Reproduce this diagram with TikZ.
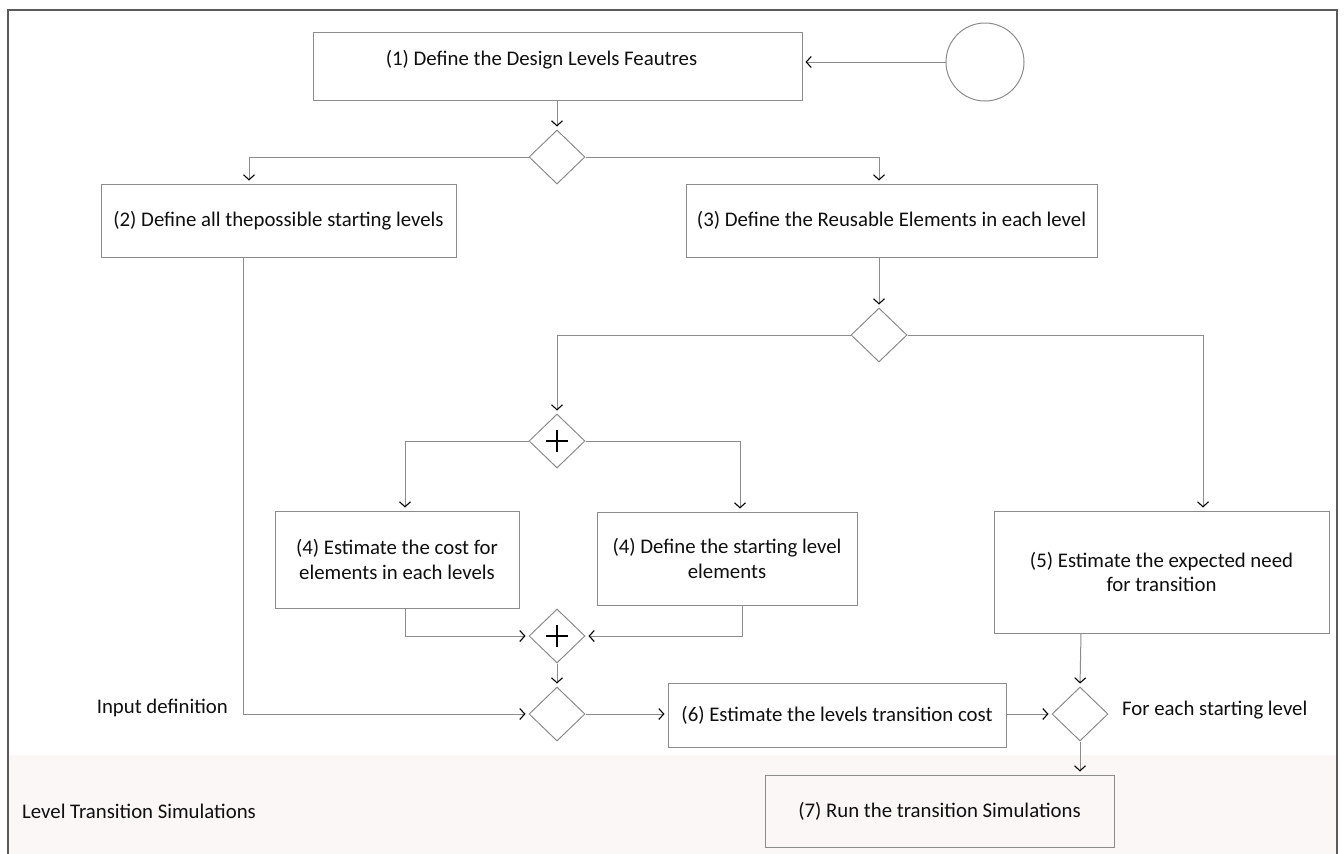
\documentclass[tikz,border=0pt]{standalone}
\usepackage{fontspec}
\setmainfont{Carlito}
\usetikzlibrary{arrows.meta,shapes.geometric,calc}
\definecolor{linegray}{RGB}{140,140,140}
\definecolor{framegray}{RGB}{90,90,90}
\definecolor{tint}{RGB}{251,247,246}
\definecolor{txt}{RGB}{15,15,15}
\tikzset{
  box/.style={draw=linegray,line width=1pt,rectangle,inner sep=0pt,align=center,text=txt,font=\fontsize{20.8}{24.5}\selectfont},
  gate/.style={draw=linegray,line width=1pt,diamond,inner sep=0pt,minimum width=56pt,minimum height=54pt},
  conn/.style={draw=linegray,line width=1pt,-{Straight Barb[length=5pt,width=11pt,line width=1.1pt,black]},shorten >=3pt},
  lbl/.style={text=txt,font=\fontsize{20.8}{24.5}\selectfont,inner sep=0pt},
  plus/.style={draw=black,line width=1.3pt}
}
\begin{document}
\begin{tikzpicture}[x=1pt,y=-1pt]
\useasboundingbox (0,0) rectangle (1344,854);
\fill[white] (0,0) rectangle (1344,854);
\fill[tint] (8,755) rectangle (1337,854);
\draw[framegray,line width=1.4pt] (8,854) -- (8,10) -- (1337,10) -- (1337,854);

% nodes
\node[box,minimum width=489pt,minimum height=68pt] (b1) at (557.5,66) {};
\node[lbl] at ([xshift=-16pt,yshift=6pt]b1.center) {(1) Define the Design Levels Feautres};
\node[draw=linegray,line width=1pt,circle,minimum size=78pt,inner sep=0pt] (start) at (985,62) {};
\node[gate] (d1) at (557,157) {};
\node[box,minimum width=355pt,minimum height=73pt] (b2) at (278.5,220.5) {(2) Define all thepossible starting levels};
\node[box,minimum width=411pt,minimum height=73pt] (b3) at (891.5,220.5) {(3) Define the Reusable Elements in each level};
\node[gate] (d2) at (879,335) {};
\node[gate] (pa) at (557,441) {};
\node[box,minimum width=244pt,minimum height=97pt] (b4a) at (397,559.5) {(4) Estimate the cost for\\elements in each levels};
\node[box,minimum width=260pt,minimum height=93pt] (b4b) at (727,558.5) {(4) Define the starting level\\elements};
\node[box,minimum width=335pt,minimum height=122pt] (b5) at (1161.5,572) {(5) Estimate the expected need\\for transition};
\node[gate] (pb) at (557,636) {};
\node[gate] (d3) at (557,714) {};
\node[box,minimum width=338pt,minimum height=64pt] (b6) at (837,715) {(6) Estimate the levels transition cost};
\node[gate] (d4) at (1080,714) {};
\node[box,minimum width=349pt,minimum height=72pt] (b7) at (939.5,811) {(7) Run the transition Simulations};

\node[lbl,anchor=east] (inlbl) at (228,708) {Input definition};
\node[lbl,anchor=west] (forlbl) at (1122,710) {For each starting level};
\node[lbl,anchor=west] (title) at (22,811) {Level Transition Simulations};

% plus signs
\draw[plus] ([xshift=-11pt]pa.center) -- ([xshift=11pt]pa.center);
\draw[plus] ([yshift=-11pt]pa.center) -- ([yshift=11pt]pa.center);
\draw[plus] ([xshift=-11pt]pb.center) -- ([xshift=11pt]pb.center);
\draw[plus] ([yshift=-11pt]pb.center) -- ([yshift=11pt]pb.center);

% connectors
\draw[conn] (start.west) -- (b1.east |- start.west);
\draw[conn] (b1.south -| d1.north) -- (d1.north);
\draw[conn] (d1.west) -| ([xshift=-29.5pt]b2.north);
\draw[conn] (d1.east) -| ([xshift=-12.5pt]b3.north);
\draw[conn] ([xshift=-12.5pt]b3.south) -- (d2.north);
\draw[conn] (d2.west) -| (pa.north);
\draw[conn] (d2.east) -| ([xshift=41.5pt]b5.north);
\draw[conn] (pa.west) -| ([xshift=8pt]b4a.north);
\draw[conn] (pa.east) -| ([xshift=13pt]b4b.north);
\draw[conn] ([xshift=8pt]b4a.south) |- (pb.west);
\draw[conn] ([xshift=15pt]b4b.south) |- (pb.east);
\draw[conn] (pb.south) -- (d3.north);
\draw[conn] ([xshift=-35.5pt]b2.south) |- (d3.west);
\draw[conn] (d3.east) -- (d3.east -| b6.west);
\draw[conn] (b6.east |- d4.west) -- (d4.west);
\draw[conn] ([xshift=-80.5pt]b5.south) -- (d4.north);
\draw[conn] (d4.south) -- (d4.south |- b7.north);
\end{tikzpicture}
\end{document}
